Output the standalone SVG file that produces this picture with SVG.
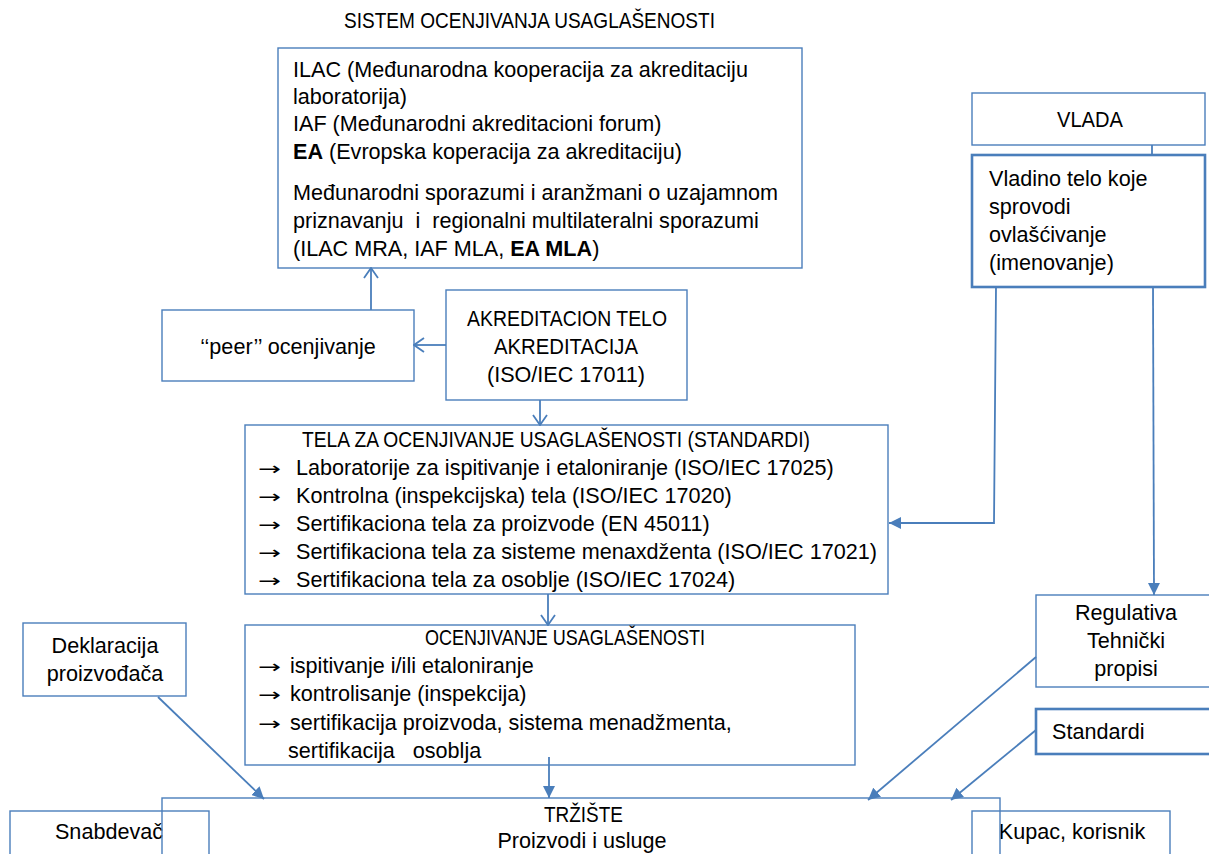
<svg xmlns="http://www.w3.org/2000/svg" width="1209" height="854" viewBox="0 0 1209 854">
<style>
text{font-family:"Liberation Sans",Arial,sans-serif;font-size:21.6px;fill:#000;white-space:pre}
text.ar{font-family:"DejaVu Sans",sans-serif;font-size:18px}
.box{fill:none;stroke:#4a7ebb;stroke-width:1.4}
.thick{fill:none;stroke:#4a7ebb;stroke-width:2.6}
.c{text-anchor:middle}
.ln{fill:none;stroke:#4a7ebb;stroke-width:1.8}
.b{font-weight:bold}
</style>
<defs>
<marker id="open" viewBox="0 0 12 16" refX="11" refY="8" markerWidth="12" markerHeight="16" markerUnits="userSpaceOnUse" orient="auto">
<path d="M1,1 L11,8 L1,15" fill="none" stroke="#4a7ebb" stroke-width="1.8"/>
</marker>
<marker id="fill" viewBox="0 0 12 12" refX="12" refY="6" markerWidth="12" markerHeight="12" markerUnits="userSpaceOnUse" orient="auto">
<path d="M0,0 L12,6 L0,12 z" fill="#4a7ebb"/>
</marker>
</defs>
<rect width="1209" height="854" fill="#fff"/>

<text x="344" y="28" textLength="371" lengthAdjust="spacingAndGlyphs">SISTEM OCENJIVANJA USAGLAŠENOSTI</text>

<g id="medjunarodni">
<rect class="box" x="278" y="48" width="524" height="220"/>
<text x="293" y="77">ILAC (Međunarodna kooperacija za akreditaciju</text>
<text x="293" y="104">laboratorija)</text>
<text x="293" y="131">IAF (Međunarodni akreditacioni forum)</text>
<text x="293" y="159"><tspan class="b">EA</tspan> (Evropska koperacija za akreditaciju)</text>
<text x="293" y="200">Međunarodni sporazumi i aranžmani o uzajamnom</text>
<text x="293" y="228">priznavanju  i  regionalni multilateralni sporazumi</text>
<text x="293" y="256">(ILAC MRA, IAF MLA, <tspan class="b">EA MLA</tspan>)</text>
</g>

<g id="vlada">
<rect class="box" x="972" y="93" width="233" height="52"/>
<text x="1057" y="127" textLength="66" lengthAdjust="spacingAndGlyphs">VLADA</text>
</g>

<g id="vladino-telo">
<rect class="thick" x="972" y="155" width="233" height="132"/>
<text x="989" y="186">Vladino telo koje</text>
<text x="989" y="214">sprovodi</text>
<text x="989" y="242">ovlašćivanje</text>
<text x="989" y="270">(imenovanje)</text>
</g>

<g id="peer">
<rect class="box" x="162" y="310" width="252" height="71"/>
<text class="c" x="288" y="354">‘‘peer’’ ocenjivanje</text>
</g>

<g id="akreditaciono-telo">
<rect class="box" x="446" y="290" width="241" height="110"/>
<text x="467" y="326" textLength="200" lengthAdjust="spacingAndGlyphs">AKREDITACION TELO</text>
<text x="494" y="354" textLength="144" lengthAdjust="spacingAndGlyphs">AKREDITACIJA</text>
<text class="c" x="566" y="382">(ISO/IEC 17011)</text>
</g>

<g id="tela">
<rect class="box" x="245" y="425" width="643" height="169"/>
<text x="302" y="447" textLength="508" lengthAdjust="spacingAndGlyphs">TELA ZA OCENJIVANJE USAGLAŠENOSTI (STANDARDI)</text>
<text class="ar" x="258" y="475" textLength="23" lengthAdjust="spacingAndGlyphs">→</text><text x="296" y="475">Laboratorije za ispitivanje i etaloniranje (ISO/IEC 17025)</text>
<text class="ar" x="258" y="503" textLength="23" lengthAdjust="spacingAndGlyphs">→</text><text x="296" y="503">Kontrolna (inspekcijska) tela (ISO/IEC 17020)</text>
<text class="ar" x="258" y="531" textLength="23" lengthAdjust="spacingAndGlyphs">→</text><text x="296" y="531">Sertifikaciona tela za proizvode (EN 45011)</text>
<text class="ar" x="258" y="559" textLength="23" lengthAdjust="spacingAndGlyphs">→</text><text x="296" y="559">Sertifikaciona tela za sisteme menaxdženta (ISO/IEC 17021)</text>
<text class="ar" x="258" y="587" textLength="23" lengthAdjust="spacingAndGlyphs">→</text><text x="296" y="587">Sertifikaciona tela za osoblje (ISO/IEC 17024)</text>
</g>

<g id="ocenjivanje">
<rect class="box" x="245" y="625" width="610" height="140"/>
<text x="425" y="645" textLength="280" lengthAdjust="spacingAndGlyphs">OCENJIVANJE USAGLAŠENOSTI</text>
<text class="ar" x="258" y="673" textLength="23" lengthAdjust="spacingAndGlyphs">→</text><text x="290" y="673">ispitivanje i/ili etaloniranje</text>
<text class="ar" x="258" y="701" textLength="23" lengthAdjust="spacingAndGlyphs">→</text><text x="290" y="701">kontrolisanje (inspekcija)</text>
<text class="ar" x="258" y="730" textLength="23" lengthAdjust="spacingAndGlyphs">→</text><text x="290" y="730">sertifikacija proizvoda, sistema menadžmenta,</text>
<text x="288" y="758">sertifikacija   osoblja</text>
</g>

<g id="deklaracija">
<rect class="box" x="23" y="623" width="163" height="73"/>
<text class="c" x="105" y="653">Deklaracija</text>
<text class="c" x="105" y="681">proizvođača</text>
</g>

<g id="regulativa">
<rect class="box" x="1036" y="595" width="176" height="92"/>
<text class="c" x="1126" y="620">Regulativa</text>
<text class="c" x="1126" y="648">Tehnički</text>
<text class="c" x="1126" y="676">propisi</text>
</g>

<g id="standardi">
<rect class="thick" x="1036" y="709" width="176" height="45"/>
<text x="1052" y="739">Standardi</text>
</g>

<g id="snabdevac">
<rect class="box" x="10" y="811" width="199" height="60"/>
<text class="c" x="109" y="839">Snabdevač</text>
</g>

<g id="kupac">
<rect class="box" x="972" y="811" width="198" height="60"/>
<text class="c" x="1072" y="839">Kupac, korisnik</text>
</g>

<g id="trziste">
<rect class="box" x="162" y="798" width="838" height="80"/>
<text x="544" y="822" textLength="79" lengthAdjust="spacingAndGlyphs">TRŽIŠTE</text>
<text class="c" x="582" y="848">Proizvodi i usluge</text>
</g>

<g id="connectors">
<line class="ln" x1="1152" y1="145" x2="1152" y2="155"/>
<line class="ln" x1="446" y1="345" x2="414" y2="345" marker-end="url(#open)"/>
<line class="ln" x1="371" y1="310" x2="371" y2="268" marker-end="url(#open)"/>
<line class="ln" x1="540" y1="400" x2="540" y2="425" marker-end="url(#open)"/>
<line class="ln" x1="548" y1="594" x2="548" y2="625" marker-end="url(#open)"/>
<line class="ln" x1="549" y1="757" x2="549" y2="798" marker-end="url(#fill)"/>
<polyline class="ln" points="996,287 994,523 889,523" marker-end="url(#fill)"/>
<line class="ln" x1="1153" y1="287" x2="1154" y2="595" marker-end="url(#fill)"/>
<line class="ln" x1="158" y1="697" x2="264" y2="799" marker-end="url(#fill)"/>
<line class="ln" x1="1036" y1="657" x2="868" y2="800" marker-end="url(#fill)"/>
<line class="ln" x1="1036" y1="730" x2="951" y2="800" marker-end="url(#fill)"/>
</g>
</svg>
